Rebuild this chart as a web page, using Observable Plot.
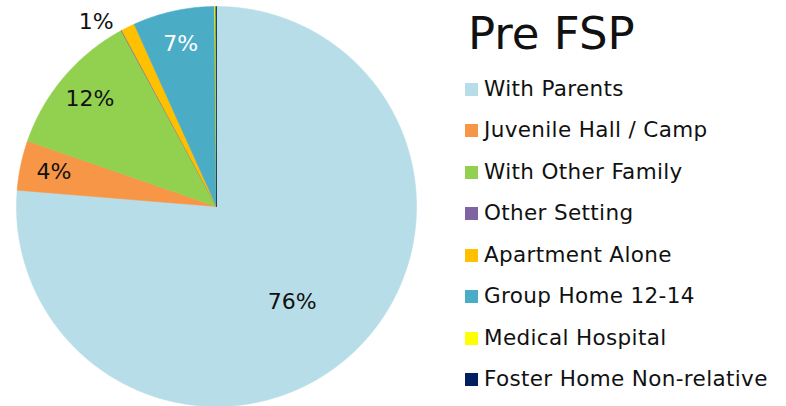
<!DOCTYPE html>
<html><head><meta charset="utf-8">
<script src="https://cdn.jsdelivr.net/npm/d3@7"></script>
<script src="https://cdn.jsdelivr.net/npm/@observablehq/plot@0.6"></script>
<style>
html,body{margin:0;padding:0;background:#fff;}
#wrap{position:relative;width:786px;height:406px;overflow:hidden;font-family:"DejaVu Sans",sans-serif;}
#chart{position:absolute;left:0;top:0;}
#title{position:absolute;left:468px;top:11px;font-size:45px;color:#111;line-height:1;}
#legend{position:absolute;left:465px;top:0;}
.item{position:absolute;left:0;white-space:nowrap;font-size:21.5px;letter-spacing:0.35px;color:#111;line-height:1;}
.sw{display:inline-block;width:13px;height:13px;margin-right:6px;vertical-align:0px;}
</style></head>
<body><div id="wrap"><div id="chart"></div><div id="title">Pre FSP</div><div id="legend"></div></div>
<script>
const categories = ["With Parents","Juvenile Hall / Camp","With Other Family","Other Setting","Apartment Alone","Group Home 12-14","Medical Hospital","Foster Home Non-relative"];
const values = [76.3, 4.0, 11.8, 0.05, 1.1, 6.6, 0.1, 0.05];
const labels = ["76%","4%","12%","","1%","7%","",""];
const colors = ["#B7DEE8","#F79646","#92D050","#8064A2","#FFC000","#4BACC6","#FFFF00","#002060"];

const total = d3.sum(values);
const slices = [];
let acc = 0;
categories.forEach((c,i)=>{
  const a0 = acc/total*2*Math.PI; acc += values[i];
  const a1 = acc/total*2*Math.PI;
  slices.push({cat:c, a0, a1, label:labels[i], i});
});
const pts = [];
for (const s of slices) {
  pts.push({cat:s.cat, x:0, y:0});
  const n = Math.max(2, Math.ceil((s.a1-s.a0)/(Math.PI/360)));
  for (let k=0;k<=n;k++){
    const a = s.a0 + (s.a1-s.a0)*k/n;
    pts.push({cat:s.cat, x:Math.sin(a), y:Math.cos(a)});
  }
  pts.push({cat:s.cat, x:0, y:0});
}
// label placement (radius fraction) per slice
const lbl = slices.filter(s=>s.label).map(s=>{
  const m = (s.a0+s.a1)/2;
  const span = s.a1-s.a0;
  const big = span > Math.PI;
  const small = span < 0.1;
  const r = big ? 0.61 : (small ? 1.03 : 0.83);
  return {label:s.label,
    x:Math.sin(m)*r + (small?-0.145:0) + (big?-0.035:0),
    y:Math.cos(m)*r + (big?-0.03:0),
    fill: s.label==="7%" ? "#fff" : "#111"};
});

const W = 440, H = 406, R = 200, cx = 216, cy = 206;
const plot = Plot.plot({
  width: W, height: H, margin: 0,
  x: {domain: [-cx/R, (W-cx)/R], axis: null},
  y: {domain: [-(H-cy)/R, cy/R], axis: null},
  color: {domain: categories, range: colors},
  marks: [
    Plot.line(pts, {x:"x", y:"y", z:"cat", fill:"cat", stroke:"cat", strokeWidth:0.6, curve:"linear"}),
    Plot.text(lbl, {x:"x", y:"y", text:"label", fill:d=>d.fill, fontSize:22, fontFamily:"DejaVu Sans, sans-serif"})
  ]
});
document.getElementById("chart").appendChild(plot);

const leg = document.getElementById("legend");
const rowY = [87,128,170,211,253,294,336,377];
categories.forEach((c,i)=>{
  const d = document.createElement("div");
  d.className="item"; d.style.top=(rowY[i]-9)+"px";
  d.innerHTML = `<span class="sw" style="background:${colors[i]}"></span>${c}`;
  leg.appendChild(d);
});
</script></body></html>
